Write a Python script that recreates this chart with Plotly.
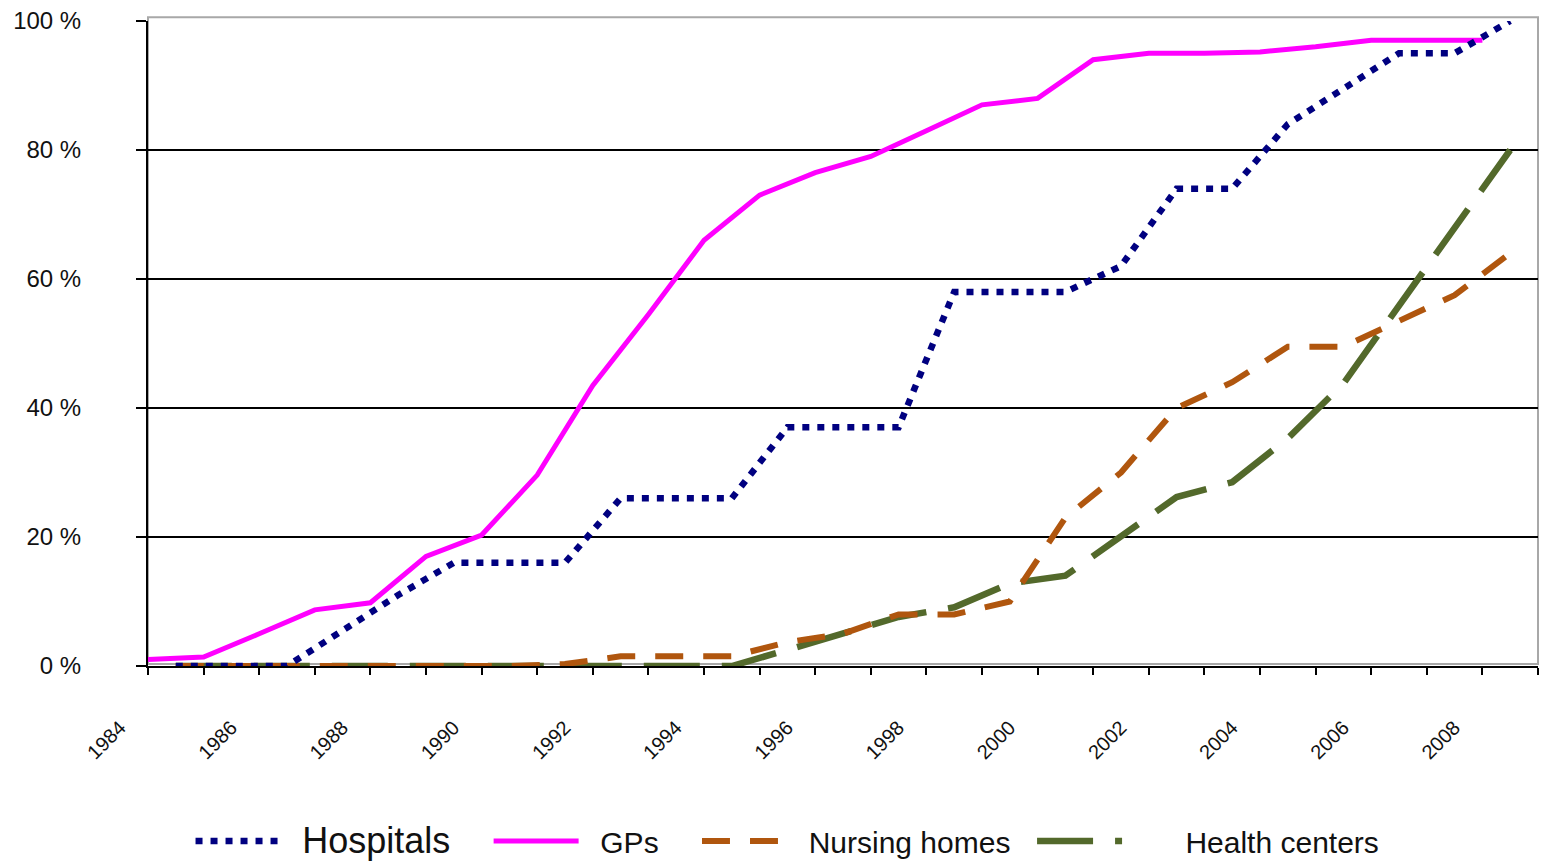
import plotly.graph_objects as go

# ---- data ----
years = list(range(1984, 2009))
year_ticks = list(range(1984, 2010))
tick_labels = [str(y) if y % 2 == 0 else "" for y in year_ticks]
pct_ticks = [0, 20, 40, 60, 80, 100]
pct_labels = ["0 %", "20 %", "40 %", "60 %", "80 %", "100 %"]

gps = [1, 1.4, 5, 8.7, 9.8, 17, 20.3, 29.6, 43.5, 54.5, 66, 73, 76.5, 79,
       83, 87, 88, 94, 95, 95, 95.2, 96, 97, 97, 97]
hospitals = [0, 0, 0, 5.5, 11, 16, 16, 16, 26, 26, 26, 37, 37, 37, 58, 58,
             58, 62, 74, 74, 84, 89.5, 95, 95, 100]
nursing_homes = [0, 0, 0, 0, 0, 0, 0, 0.3, 1.5, 1.5, 1.5, 3.7, 5, 8, 8, 10,
                 23, 30, 40, 44, 49.5, 49.5, 53.5, 57.5, 64]
health_centers = [0, 0, 0, 0, 0, 0, 0, 0, 0, 0, 0, 2.5, 5, 7.6, 9.1, 12.8,
                  14, 20, 26.2, 28.5, 35.3, 43.8, 56, 68, 80]
# institution series are plotted at mid-year in the reference
mid_years = [y + 0.5 for y in years]

FONT = "Liberation Sans, Arial, sans-serif"
NB = "\u00a0"

fig = go.Figure()
fig.add_trace(go.Scatter(
    x=years, y=gps, name=NB * 2 + "GPs" + NB * 4, mode="lines", legendrank=2,
    line=dict(color="#FF00FF", width=5)))
fig.add_trace(go.Scatter(
    x=mid_years, y=health_centers, name=NB * 7 + "Health centers", mode="lines", legendrank=4,
    line=dict(color="#53692B", width=6.5, dash="56px,22px")))
fig.add_trace(go.Scatter(
    x=mid_years, y=nursing_homes, name=NB * 2 + "Nursing homes" + NB * 2, mode="lines",
    legendrank=3, line=dict(color="#B0560E", width=6, dash="28px,20px")))
fig.add_trace(go.Scatter(
    x=mid_years, y=hospitals,
    name=NB * 2 + "<span style='font-size:36px'>Hospitals</span>" + NB * 4, mode="lines",
    legendrank=1, line=dict(color="#000080", width=6.5, dash="7px,8px")))

# light grey plot-area frame
fig.add_shape(type="rect", xref="paper", yref="paper", x0=0, x1=1, y0=0.003, y1=1.006,
              line=dict(color="#A8A8A8", width=2), layer="below")

fig.update_layout(
    width=1541, height=865,
    margin=dict(l=148, r=3, t=21, b=199, autoexpand=False),
    paper_bgcolor="white", plot_bgcolor="white",
    font=dict(family=FONT, color="#111111"),
    showlegend=True,
    legend=dict(orientation="h", x=0.0306, xanchor="left",
                yref="container", y=0.0277, yanchor="middle",
                font=dict(size=30, family=FONT, color="#111111"),
                itemwidth=85, bgcolor="rgba(0,0,0,0)"),
)
fig.update_xaxes(
    range=[1984, 2009], tickmode="array", tickvals=year_ticks, ticktext=tick_labels,
    tickangle=-45, ticks="outside", ticklen=7, tickwidth=2, tickcolor="black",
    showline=True, linecolor="black", linewidth=2, showgrid=False, zeroline=False,
    tickfont=dict(size=20, family=FONT, color="#111111"), automargin=False,
    ticklabelstandoff=33, ticklabelshift=-28,
)
fig.update_yaxes(
    range=[0, 100], tickmode="array", tickvals=pct_ticks, ticktext=pct_labels,
    ticks="outside", ticklen=10, tickwidth=2, tickcolor="black",
    showline=True, linecolor="black", linewidth=2,
    showgrid=True, gridcolor="black", gridwidth=2, zeroline=False,
    tickfont=dict(size=24, family=FONT, color="#111111"), automargin=False,
    ticklabelstandoff=50,
)

fig.write_html("out.html", config={"displayModeBar": False},
               post_script="document.body.style.margin='0';document.body.style.overflow='hidden';")
